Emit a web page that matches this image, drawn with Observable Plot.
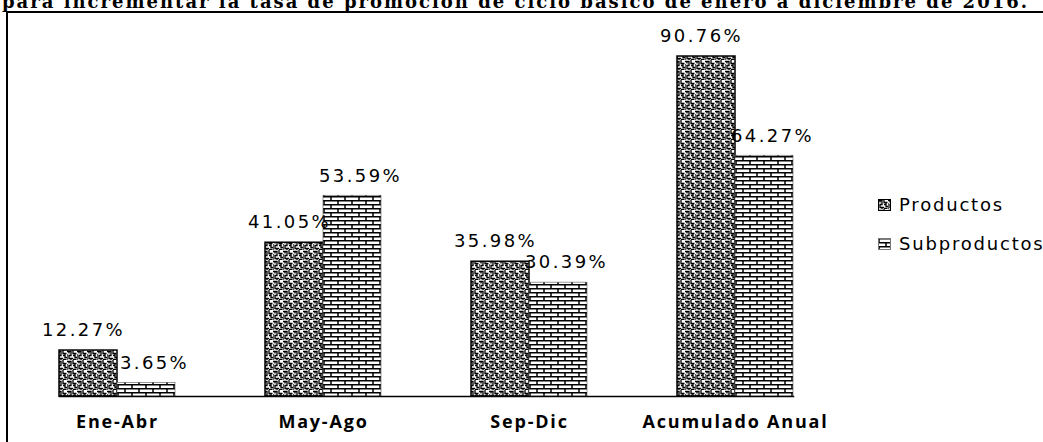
<!DOCTYPE html>
<html><head><meta charset="utf-8">
<script src="https://cdn.jsdelivr.net/npm/d3@7"></script>
<script src="https://cdn.jsdelivr.net/npm/@observablehq/plot@0.6"></script>
<style>
body{margin:0;background:#fff;width:1043px;height:442px;overflow:hidden;position:relative;}
#title{position:absolute;left:2px;top:-7px;font:bold 18px/18px "DejaVu Serif";white-space:nowrap;letter-spacing:2px;color:#000}
#frame{position:absolute;left:6px;top:11px;width:1100px;height:500px;border-left:2px solid #000;border-top:2px solid #000}
#chart{position:absolute;left:0;top:0}
#legend{position:absolute;left:878px;top:194px;font:18px "DejaVu Sans";letter-spacing:1.8px;color:#000}
#legend div{height:39px;display:flex;align-items:flex-start;gap:8px;white-space:nowrap}
#legend svg{margin-top:5px}
#chart svg g[aria-label="text"] text{letter-spacing:2.4px}
#chart svg g[aria-label="fx-axis tick label"] text{font-weight:bold;letter-spacing:1.8px}
</style></head><body>
<svg width="0" height="0" style="position:absolute">
<defs>
<pattern id="pat-prod" patternUnits="userSpaceOnUse" width="10" height="10">
<rect width="10" height="10" fill="#fff"/>
<path d="M0 1.5H4V5.5H2V8.5H6 M6 0V3.5H9.5 M8 3.5V7.5H10 M0 4V10 M4 8.5V10 M9.5 9.5H6 M2 3.5V1.5 M6 5.5H8" stroke="#000" stroke-width="1.3" fill="none"/>
</pattern>
<pattern id="pat-sub" patternUnits="userSpaceOnUse" width="14" height="8">
<rect width="14" height="8" fill="#fff"/>
<path d="M0 0.75H14 M0 4.75H14 M1 0.75V4.75 M8 4.75V8.75" stroke="#000" stroke-width="1.5" fill="none"/>
</pattern>
</defs>
</svg>
<div id="title">para incrementar la tasa de promoción de ciclo básico de enero a diciembre de 2016.</div>
<div id="frame"></div>
<div id="chart"></div>
<div id="legend"></div>
<script>
const categories = ["Ene-Abr", "May-Ago", "Sep-Dic", "Acumulado Anual"];
const series = ["Productos", "Subproductos"];
const productos = [12.27, 41.05, 35.98, 90.76];
const subproductos = [3.65, 53.59, 30.39, 64.27];

const data = categories.flatMap((c, i) => [
  {category: c, serie: series[0], value: productos[i]},
  {category: c, serie: series[1], value: subproductos[i]}
]);
const prod = data.filter(d => d.serie === series[0]);
const sub = data.filter(d => d.serie === series[1]);
const fmt = d => d.value.toFixed(2) + "%";

const plot = Plot.plot({
  width: 1043,
  height: 442,
  marginLeft: 12,
  marginRight: 203.5,
  marginTop: 21.4,
  marginBottom: 46,
  style: {background: "transparent", overflow: "visible"},
  fx: {domain: categories, paddingInner: 0.435, paddingOuter: 0.2175, label: null, axis: null},
  x: {domain: series, padding: 0, axis: null},
  y: {domain: [0, 100], axis: null},
  marks: [
    Plot.barY(prod, {fx: "category", x: "serie", y: "value", fill: "url(#pat-prod)", stroke: "#000", strokeWidth: 1.5}),
    Plot.barY(sub, {fx: "category", x: "serie", y: "value", fill: "url(#pat-sub)", stroke: "#555", strokeWidth: 0.6}),
    Plot.frame({anchor: "bottom", facet: "super", stroke: "#000", strokeWidth: 1.5}),
    Plot.text(prod, {fx: "category", x: "serie", y: "value", text: fmt, dy: -20, dx: -5, fontSize: 18, fontFamily: "DejaVu Sans", fill: "#000"}),
    Plot.text(sub, {fx: "category", x: "serie", y: "value", text: fmt, dy: -20, dx: 8, fontSize: 18, fontFamily: "DejaVu Sans", fill: "#000"}),
    Plot.axisFx({anchor: "bottom", label: null, tickSize: 0, tickPadding: 19, fontSize: 18, fontFamily: "Open Sans", fontWeight: "bold"})
  ]
});
document.getElementById("chart").append(plot);

const legend = document.getElementById("legend");
[["pat-prod", "#000"], ["pat-sub", "#777"]].forEach(([pat, st], i) => {
  const row = document.createElement("div");
  row.innerHTML = `<svg width="13" height="12"><rect x="0.5" y="0.5" width="12" height="11" fill="url(#${pat})" stroke="${st}"/></svg><span>${series[i]}</span>`;
  legend.append(row);
});
</script>
</body></html>
